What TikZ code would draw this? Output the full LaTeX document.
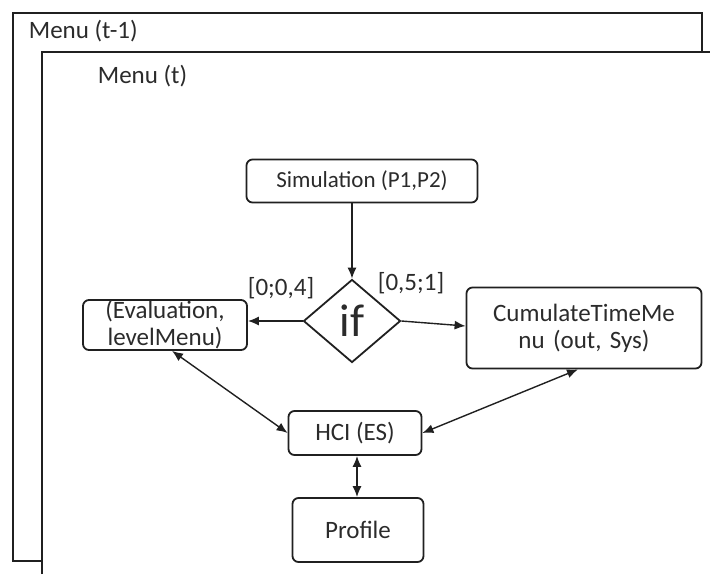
\documentclass[tikz,border=0pt]{standalone}
\usepackage{fontspec}
\setmainfont{Carlito}
\usepackage{tikz}
\usetikzlibrary{arrows.meta,positioning,shapes.geometric}
\definecolor{menuLine}{HTML}{202020}
\definecolor{menuText}{HTML}{2B2B2B}

\begin{document}
\begin{tikzpicture}[x=1pt,y=-1pt,line width=1.8pt,
  font=\fontsize{25}{27}\selectfont,text=menuText,
  box/.style={draw=menuLine,rounded corners=6pt,align=center,inner sep=0pt},
  link/.style={draw=menuLine,line width=1.4pt,-{Latex[length=11pt,width=9pt]}},
  dlink/.style={draw=menuLine,line width=1.4pt,{Latex[length=11pt,width=9pt]}-{Latex[length=11pt,width=9pt]}}]
  \useasboundingbox (0,0) rectangle (710,574);
  % menu frames
  \draw[menuLine] (42,561) -- (13,561) -- (13,13) -- (702,13) -- (702,52);
  \draw[menuLine] (42,574) -- (42,52) -- (710,52);
  \node[anchor=west,inner sep=0pt] (prev) at (28,31) {Menu (t-1)};
  \node[anchor=west,inner sep=0pt] (curr) at (97,76) {Menu (t)};
  % blocks
  \node[box,minimum width=231pt,minimum height=43pt,font=\fontsize{23}{25}\selectfont] (sim) at (362,181)
       {Simulation (P1,P2)};
  \node[draw=menuLine,diamond,aspect=1.17,minimum width=97pt,minimum height=83pt,inner sep=0pt,
        font=\fontsize{46}{46}\selectfont] (cond) at (352,321) {if};
  \node[box,minimum width=164pt,minimum height=50pt,text width=160pt] (eval) at (165,325)
       {(Evaluation,\\levelMenu)};
  \node[box,minimum width=235pt,minimum height=81pt,text width=220pt] (cumul) at (584,328)
       {CumulateTimeMe\\nu (out, Sys)};
  \node[box,minimum width=133pt,minimum height=44pt] (hci) at (355,433) {HCI (ES)};
  \node[box,minimum width=131pt,minimum height=64pt] (prof) at (358,530) {Profile};
  % branch labels
  \node[inner sep=0pt] (lo) at (281,288) {[0;0,4]};
  \node[inner sep=0pt] (hi) at (411,283) {[0,5;1]};
  % links
  \draw[link] (sim.south -| cond.north) -- (cond.north);
  \draw[link] (cond.west) -- (eval.east |- cond.west);
  \draw[link] (cond.east) -- ([yshift=2pt]cumul.west);
  \draw[dlink] ([xshift=7pt]eval.south) -- (hci.west);
  \draw[dlink] ([xshift=-6pt]cumul.south) -- (hci.east);
  \draw[dlink] ([xshift=2pt]hci.south) -- ([xshift=-1pt]prof.north);
\end{tikzpicture}
\end{document}
